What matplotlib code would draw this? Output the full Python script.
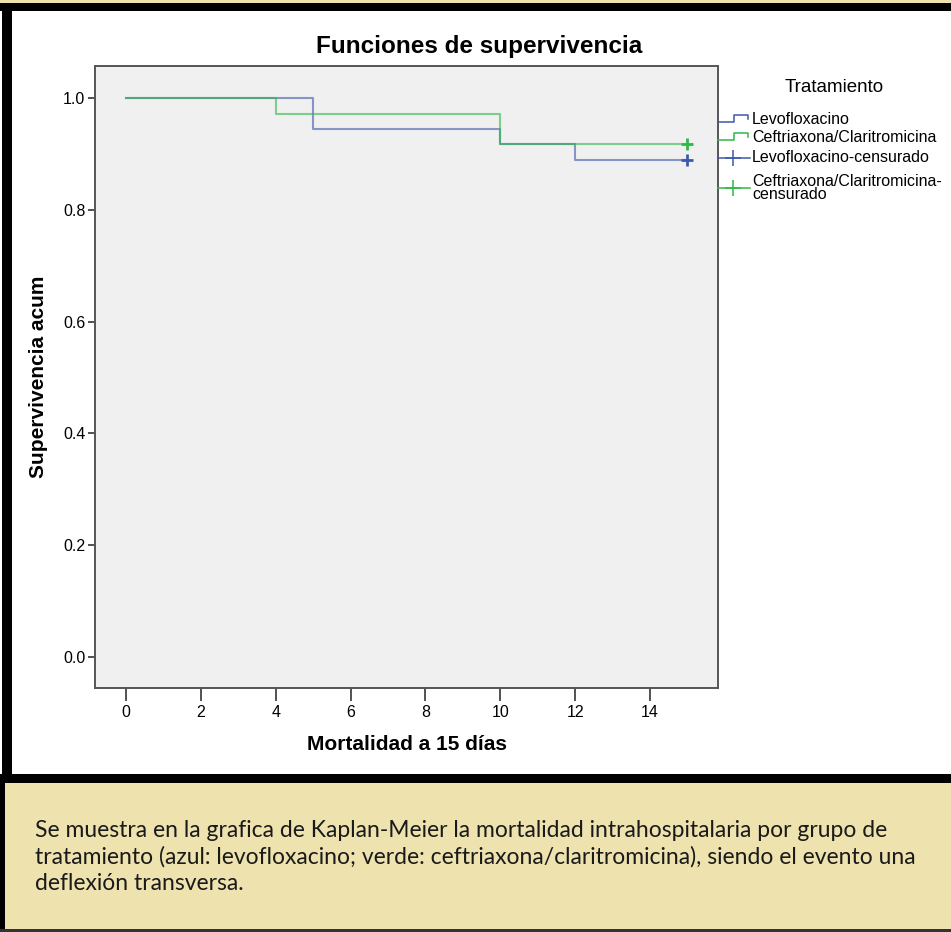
import matplotlib
matplotlib.use("Agg")
import matplotlib.pyplot as plt
from matplotlib.patches import Rectangle
from matplotlib.lines import Line2D

# survival data (Kaplan-Meier steps)
levo_times = [0, 5, 10, 12, 15]
levo_surv = [1.0, 0.944, 0.917, 0.889, 0.889]
ceft_times = [0, 4, 10, 15]
ceft_surv = [1.0, 0.972, 0.917, 0.917]
censor_time = 15

legend_labels = ["Levofloxacino", "Ceftriaxona/Claritromicina",
                 "Levofloxacino-censurado", "Ceftriaxona/Claritromicina-\ncensurado"]
x_ticks = [0, 2, 4, 6, 8, 10, 12, 14]
y_ticks = [0.0, 0.2, 0.4, 0.6, 0.8, 1.0]

caption = ("Se muestra en la grafica de Kaplan-Meier la mortalidad intrahospitalaria por grupo de\n"
           "tratamiento (azul: levofloxacino; verde: ceftriaxona/claritromicina), siendo el evento una\n"
           "deflexión transversa.")

BLUE = "#3e58ac"
GREEN = "#2eb848"
BEIGE = "#eee2ae"
SANS = ["Liberation Sans", "DejaVu Sans"]

W, H = 951, 932
fig = plt.figure(figsize=(W / 100, H / 100), dpi=100)


def fx(x):
    return x / W


def fy(y):
    return 1 - y / H


def rect(x0, y0, x1, y1, color):
    fig.add_artist(Rectangle((fx(x0), fy(y1)), fx(x1 - x0), (y1 - y0) / H,
                             transform=fig.transFigure, color=color, lw=0, zorder=0))


# frame decoration
rect(0, 0, W, 3, BEIGE)
rect(0, 3, W, 11, "black")
rect(2, 3, 12, 783, "black")
rect(0, 774, W, 783, "black")
rect(5, 783, W, 929, BEIGE)
rect(0, 783, 5, 932, "black")
rect(0, 929, W, 932, "#333333")

ax = fig.add_axes([fx(95), fy(688), fx(718 - 95), (688 - 66) / H])
ax.set_facecolor("#f0f0f0")
for s in ax.spines.values():
    s.set_color("#555555")
    s.set_linewidth(1.4)

ax.step(levo_times, levo_surv, where="post", color=BLUE, lw=1.5, alpha=0.6)
ax.step(ceft_times, ceft_surv, where="post", color=GREEN, lw=1.5, alpha=0.6)
ax.plot([censor_time], [levo_surv[-1]], "+", color=BLUE, ms=9, mew=2)
ax.plot([censor_time], [ceft_surv[-1]], "+", color=GREEN, ms=9, mew=2)

ax.set_xlim(-0.83, 15.82)
ax.set_ylim(-0.055, 1.057)
ax.set_xticks(x_ticks)
ax.set_yticks(y_ticks)
ax.set_yticklabels([f"{v:.1f}" for v in y_ticks])
ax.tick_params(axis="x", length=9, width=1.2, color="#333333", pad=3, labelsize=11.5)
ax.tick_params(axis="y", length=5, width=1.2, color="#333333", pad=2, labelsize=11.5)
for lab in ax.get_xticklabels() + ax.get_yticklabels():
    lab.set_family(SANS)

fig.text(fx(479), fy(47), "Funciones de supervivencia", ha="center", va="center",
         fontsize=17.5, fontweight="bold", family=SANS)
ax.set_xlabel("Mortalidad a 15 días", fontsize=15, fontweight="bold", family=SANS, labelpad=11)
ax.set_ylabel("Supervivencia acum", fontsize=15, fontweight="bold", family=SANS, labelpad=11)

# legend
fig.text(fx(834), fy(88), "Tratamiento", ha="center", va="center", fontsize=13.5, family=SANS)
ys = [119, 137, 158, 188]
for i, (lab, y) in enumerate(zip(legend_labels, ys)):
    col = BLUE if i % 2 == 0 else GREEN
    if i < 2:
        fig.add_artist(Line2D([fx(718), fx(734), fx(734), fx(748), fx(748)],
                              [fy(y + 3), fy(y + 3), fy(y - 4), fy(y - 4), fy(y)],
                              transform=fig.transFigure, color=col, lw=1.1))
    else:
        fig.add_artist(Line2D([fx(718), fx(750)], [fy(y), fy(y)],
                              transform=fig.transFigure, color=col, lw=1.1))
        fig.add_artist(Line2D([fx(733)], [fy(y)], transform=fig.transFigure, color=col,
                              marker="+", ms=11, mew=1.1))
    fig.text(fx(752), fy(y), lab, ha="left", va="center", fontsize=11.5,
             family=SANS, linespacing=0.9)

fig.text(fx(35), fy(857), caption, ha="left", va="center", fontsize=16.5,
         family=["Lato", "DejaVu Sans"], linespacing=1.3, color="#1a1a1a")

fig.savefig("out.png", dpi=100)
